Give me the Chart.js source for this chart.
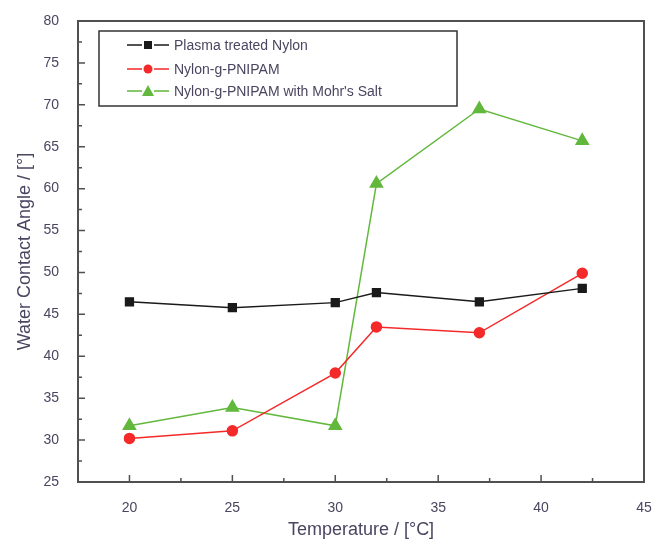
<!DOCTYPE html>
<html>
<head>
<meta charset="utf-8">
<script src="https://cdn.jsdelivr.net/npm/chart.js@4/dist/chart.umd.min.js"></script>
<style>
  html, body { margin: 0; padding: 0; background: #fff; }
</style>
</head>
<body>
<canvas id="chart" width="653" height="545"></canvas>
<script>
const temps = [20, 25, 30, 32, 37, 42];
const plasma = [46.5, 45.8, 46.4, 47.6, 46.5, 48.1];
const pnipam = [30.2, 31.1, 38.0, 43.5, 42.8, 49.9];
const mohr = [31.7, 33.9, 31.7, 60.6, 69.5, 65.7];
const seriesNames = ["Plasma treated Nylon", "Nylon-g-PNIPAM", "Nylon-g-PNIPAM with Mohr's Salt"];

const $black = "#1a1a1a";
const $red = "#f42a2a";
const $green = "#62b83c";
const $axis = "#505050";
const $text = "#4b4560";
const $font = "'Liberation Sans', Arial, sans-serif";

function pts(ys) {
    return temps.map((t, i) => ({x: t, y: ys[i]}));
}

// frame, inward ticks and legend box like the original plot
const framePlugin = {
    id: 'frame',
    afterDatasetsDraw(chart) {
        const ctx = chart.ctx;
        const a = chart.chartArea;
        const xs = chart.scales.x, ys = chart.scales.y;
        ctx.save();
        ctx.strokeStyle = $axis;
        ctx.lineWidth = 2;
        ctx.strokeRect(a.left, a.top, a.right - a.left, a.bottom - a.top);

        ctx.lineWidth = 1.5;
        ctx.beginPath();
        for (let v = xs.min; v <= xs.max + 0.01; v += 2.5) {
            const px = xs.getPixelForValue(v);
            const len = (v % 5 === 0) ? 7 : 4;
            ctx.moveTo(px, a.bottom);
            ctx.lineTo(px, a.bottom - len);
        }
        for (let v = ys.min; v <= ys.max + 0.01; v += 2.5) {
            const py = ys.getPixelForValue(v);
            const len = (v % 5 === 0) ? 7 : 4;
            ctx.moveTo(a.left, py);
            ctx.lineTo(a.left + len, py);
        }
        ctx.stroke();

        // legend
        const box = {x: 99, y: 31, w: 358, h: 75};
        ctx.lineWidth = 1.5;
        ctx.strokeStyle = "#333";
        ctx.strokeRect(box.x, box.y, box.w, box.h);
        const rows = [45, 69, 91];
        chart.data.datasets.forEach((ds, i) => {
            const y = rows[i];
            ctx.strokeStyle = ds.borderColor;
            ctx.lineWidth = 1.5;
            ctx.beginPath();
            ctx.moveTo(127, y); ctx.lineTo(142, y);
            ctx.moveTo(154, y); ctx.lineTo(169, y);
            ctx.stroke();
            ctx.fillStyle = ds.backgroundColor;
            ctx.beginPath();
            if (ds.pointStyle === 'rect') {
                ctx.fillRect(148 - 4, y - 4, 8, 8);
            } else if (ds.pointStyle === 'circle') {
                ctx.arc(148, y, 4.5, 0, Math.PI * 2);
                ctx.fill();
            } else {
                ctx.moveTo(148, y - 6);
                ctx.lineTo(154, y + 5);
                ctx.lineTo(142, y + 5);
                ctx.closePath();
                ctx.fill();
            }
            ctx.fillStyle = $text;
            ctx.font = "14px " + $font;
            ctx.textBaseline = 'middle';
            ctx.fillText(ds.label, 174, y + 1);
        });
        ctx.restore();
    }
};

new Chart(document.getElementById('chart'), {
    type: 'line',
    data: {
        datasets: [
            {
                label: seriesNames[0],
                data: pts(plasma),
                borderColor: $black,
                backgroundColor: $black,
                pointStyle: 'rect',
                pointRadius: 5.5,
                borderWidth: 1.5,
            },
            {
                label: seriesNames[1],
                data: pts(pnipam),
                borderColor: $red,
                backgroundColor: $red,
                pointStyle: 'circle',
                pointRadius: 5,
                borderWidth: 1.5,
            },
            {
                label: seriesNames[2],
                data: pts(mohr),
                borderColor: $green,
                backgroundColor: $green,
                pointStyle: 'triangle',
                pointRadius: 7,
                borderWidth: 1.5,
            }
        ]
    },
    options: {
        responsive: false,
        animation: false,
        devicePixelRatio: 1,
        layout: { padding: { left: 0, top: 21, right: 9, bottom: 0 } },
        elements: {
            line: { tension: 0 },
            point: { borderWidth: 0, hoverRadius: 5 }
        },
        plugins: {
            legend: { display: false },
            tooltip: { enabled: false }
        },
        scales: {
            x: {
                type: 'linear',
                min: 17.5,
                max: 45,
                afterFit: s => { s.height = 63; s.paddingRight = 0; s.paddingLeft = 0; },
                afterBuildTicks: s => { s.ticks = [20, 25, 30, 35, 40, 45].map(v => ({value: v})); },
                grid: { display: false },
                border: { display: false },
                ticks: { color: $text, font: { size: 14, family: $font }, padding: 10, maxRotation: 0 },
                title: {
                    display: true,
                    text: 'Temperature / [°C]',
                    color: $text,
                    font: { size: 18, family: $font },
                    padding: { top: 0, bottom: 4 }
                }
            },
            y: {
                min: 25,
                max: 80,
                afterFit: s => { s.width = 78; s.paddingTop = 0; s.paddingBottom = 0; },
                grid: { display: false },
                border: { display: false },
                ticks: { stepSize: 5, color: $text, font: { size: 14, family: $font }, padding: 11 },
                title: {
                    display: true,
                    text: 'Water Contact Angle / [°]',
                    color: $text,
                    font: { size: 18, family: $font },
                    padding: { top: 14, bottom: 0 }
                }
            }
        }
    },
    plugins: [framePlugin]
});
</script>
</body>
</html>
